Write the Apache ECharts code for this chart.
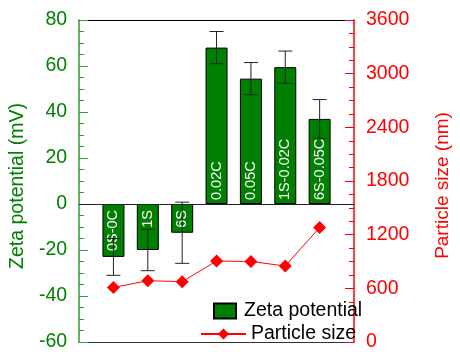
<!DOCTYPE html>
<html>
<head>
<meta charset="utf-8">
<script src="https://cdn.jsdelivr.net/npm/echarts@6/dist/echarts.min.js"></script>
<style>
  html, body { margin: 0; padding: 0; background: #fff; }
  #chart { width: 460px; height: 352px; }
</style>
</head>
<body>
<div id="chart"></div>
<script>
// Sample names, printed inside the bars
const categories = ['0S-0C', '1S', '6S', '0.02C', '0.05C', '1S-0.02C', '6S-0.05C'];
// Zeta potential (mV) and its error (±)
const zeta = [-23, -20, -12.5, 68, 54.5, 59.5, 37];
const zetaErr = [8, 9, 13.3, 7, 7, 7, 8.4];
// Particle size (nm)
const particleSize = [610, 685, 675, 905, 900, 850, 1280];
// Axis ranges
const zetaAxis = { min: -60, max: 80, step: 20 };
const sizeAxis = { min: 0, max: 3600, step: 600 };

const FONT = "'Liberation Sans', Arial, sans-serif";
const GREEN = '#008000';
const RED = '#ff0000';

// bars sit at x = 1..n on a 0..n+1 value axis
const pos = categories.map((_, i) => i + 1);
const barData = zeta.map((v, i) => {
  const item = { value: [pos[i], v] };
  if (v < 0) {
    item.label = { position: 'insideTop', align: 'right', distance: 6 };
  }
  return item;
});
const errData = zeta.map((v, i) => [pos[i], v - zetaErr[i], v + zetaErr[i]]);
const sizeData = particleSize.map((v, i) => [pos[i], v]);

const chart = echarts.init(document.getElementById('chart'), null, { renderer: 'canvas' });

const plainX = (position) => ({
  type: 'value', position: position,
  min: 0, max: categories.length + 1,
  axisLine: { show: true, onZero: false, lineStyle: { color: position === 'top' ? '#000' : '#333', width: 1 } },
  axisTick: { show: false }, axisLabel: { show: false }, splitLine: { show: false }
});

chart.setOption({
  animation: false,
  textStyle: { fontFamily: FONT },
  grid: { left: 75, right: 87, top: 20, bottom: 8, containLabel: false },
  legend: [
    {
      data: ['Zeta potential'], left: 208, top: 296, orient: 'vertical',
      itemWidth: 22, itemHeight: 15, icon: 'rect',
      textStyle: { fontSize: 19.5, color: '#000', fontFamily: FONT, lineHeight: 20, padding: [0, 0, 0, 3] }
    },
    {
      data: ['Particle size'], left: 195, top: 319, orient: 'vertical',
      itemWidth: 45, itemHeight: 14,
      textStyle: { fontSize: 19.5, color: '#000', fontFamily: FONT, lineHeight: 20 }
    }
  ],
  xAxis: [plainX('bottom'), plainX('top')],
  yAxis: [
    {
      type: 'value', position: 'left',
      min: zetaAxis.min, max: zetaAxis.max, interval: zetaAxis.step,
      name: 'Zeta potential (mV)', nameLocation: 'middle', nameRotate: 90, nameGap: 46,
      nameTextStyle: { color: GREEN, fontSize: 19.5, fontFamily: FONT, padding: [0, 10, 0, 0] },
      axisLine: { show: true, onZero: false, lineStyle: { color: '#339933', width: 1.5 } },
      axisTick: { show: true, inside: true, length: 9, lineStyle: { color: '#339933' } },
      minorTick: { show: true, splitNumber: 4, length: 5, lineStyle: { color: '#339933' } },
      axisLabel: { color: GREEN, fontSize: 19.5, margin: 12, fontFamily: FONT },
      splitLine: { show: false }
    },
    {
      type: 'value', position: 'right',
      min: sizeAxis.min, max: sizeAxis.max, interval: sizeAxis.step,
      name: 'Particle size (nm)', nameLocation: 'middle', nameRotate: 90, nameGap: 79,
      nameTextStyle: { color: RED, fontSize: 19, fontFamily: FONT, padding: [0, 9, 0, 0] },
      axisLine: { show: true, onZero: false, lineStyle: { color: RED, width: 1.5 } },
      axisTick: { show: true, inside: true, length: 9, lineStyle: { color: RED } },
      minorTick: { show: true, splitNumber: 4, length: 5, lineStyle: { color: RED } },
      axisLabel: { color: RED, fontSize: 19.5, margin: 12, fontFamily: FONT, formatter: (v) => String(v) },
      splitLine: { show: false }
    }
  ],
  series: [
    {
      name: 'Zeta potential', type: 'bar', xAxisIndex: 0, yAxisIndex: 0,
      data: barData, barWidth: 22,
      itemStyle: { color: GREEN, borderColor: '#000', borderWidth: 1 },
      label: {
        show: true, position: 'insideBottom', rotate: 90, align: 'left', verticalAlign: 'middle',
        distance: 4, color: '#fff', fontSize: 14.5, fontFamily: FONT,
        formatter: (p) => categories[p.dataIndex]
      },
      markLine: {
        silent: true, symbol: 'none', label: { show: false },
        lineStyle: { color: '#222', type: 'solid', width: 1 },
        data: [{ yAxis: 0 }]
      },
      z: 2
    },
    {
      name: 'Zeta error', type: 'custom', xAxisIndex: 0, yAxisIndex: 0,
      data: errData,
      renderItem: (params, api) => {
        const x = api.value(0);
        const lo = api.coord([x, api.value(1)]);
        const hi = api.coord([x, api.value(2)]);
        const cap = 7;
        const style = { stroke: '#222', lineWidth: 1 };
        return {
          type: 'group',
          children: [
            { type: 'line', shape: { x1: lo[0], y1: lo[1], x2: hi[0], y2: hi[1] }, style },
            { type: 'line', shape: { x1: lo[0] - cap, y1: lo[1], x2: lo[0] + cap, y2: lo[1] }, style },
            { type: 'line', shape: { x1: hi[0] - cap, y1: hi[1], x2: hi[0] + cap, y2: hi[1] }, style }
          ]
        };
      },
      z: 3
    },
    {
      name: 'Particle size', type: 'line', xAxisIndex: 0, yAxisIndex: 1,
      data: sizeData,
      symbol: 'diamond', symbolSize: 13,
      itemStyle: { color: RED },
      lineStyle: { color: RED, width: 1 },
      z: 4
    }
  ]
});
</script>
</body>
</html>
